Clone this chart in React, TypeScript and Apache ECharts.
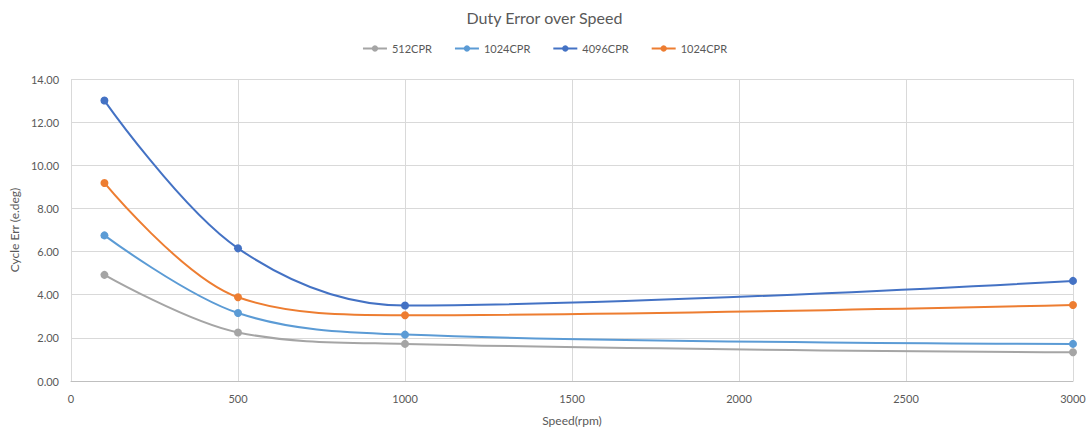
import React, { useEffect, useRef } from "react";
import * as echarts from "echarts";

const speeds = [100, 500, 1000, 3000];
const s512 = [4.92, 2.25, 1.72, 1.33];
const s1024a = [6.75, 3.15, 2.15, 1.72];
const s4096 = [13.0, 6.15, 3.5, 4.64];
const s1024b = [9.18, 3.88, 3.05, 3.52];
const seriesNames = ["512CPR", "1024CPR", "4096CPR", "1024CPR "];
const seriesColors = ["#A5A5A5", "#5B9BD5", "#4472C4", "#ED7D31"];

const FONT = "Lato, 'Open Sans', sans-serif";

export default function App() {
  const ref = useRef<HTMLDivElement>(null);
  useEffect(() => {
    if (!ref.current) return;
    const chart = echarts.init(ref.current, undefined, { renderer: "svg" });
    const all = [s512, s1024a, s4096, s1024b];
    chart.setOption({
      animation: false,
      textStyle: { fontFamily: FONT },
      title: {
        text: "Duty Error over Speed",
        left: "center",
        top: 4,
        textStyle: { fontFamily: FONT, fontSize: 16, fontWeight: "normal", color: "#595959" },
      },
      legend: {
        top: 38,
        left: "center",
        itemWidth: 24,
        itemHeight: 8,
        itemGap: 22,
        data: seriesNames,
        formatter: (n: string) => n.trim(),
        textStyle: { fontFamily: FONT, fontSize: 11, color: "#595959" },
      },
      grid: { left: 70, right: 16, top: 79, bottom: 52 },
      xAxis: {
        type: "value",
        min: 0,
        max: 3000,
        interval: 500,
        name: "Speed(rpm)",
        nameLocation: "middle",
        nameGap: 33,
        nameTextStyle: { fontFamily: FONT, fontSize: 12, color: "#595959" },
        axisLine: { show: true, lineStyle: { color: "#BFBFBF" } },
        axisTick: { show: false },
        axisLabel: {
          fontFamily: FONT,
          fontSize: 11,
          color: "#595959",
          margin: 12,
          formatter: (v: number) => String(v),
        },
        splitLine: { show: true, lineStyle: { color: "#D9D9D9" } },
      },
      yAxis: {
        type: "value",
        min: 0,
        max: 14,
        interval: 2,
        name: "Cycle Err (e.deg)",
        nameLocation: "middle",
        nameGap: 46,
        nameTextStyle: { fontFamily: FONT, fontSize: 12, color: "#595959" },
        axisLine: { show: false },
        axisTick: { show: false },
        axisLabel: {
          fontFamily: FONT,
          fontSize: 11,
          color: "#595959",
          margin: 12,
          formatter: (v: number) => v.toFixed(2),
        },
        splitLine: { show: true, lineStyle: { color: "#D9D9D9" } },
      },
      series: all.map((vals, i) => ({
        name: seriesNames[i],
        type: "line",
        smooth: 0.35,
        symbol: "circle",
        symbolSize: 8,
        color: seriesColors[i],
        lineStyle: { width: 2, color: seriesColors[i] },
        itemStyle: { color: seriesColors[i] },
        data: speeds.map((x, j) => [x, vals[j]]),
      })),
    });
    return () => chart.dispose();
  }, []);
  return <div ref={ref} style={{ width: 1089, height: 433, position: "absolute", left: 0, top: 0, background: "#fff" }} />;
}
